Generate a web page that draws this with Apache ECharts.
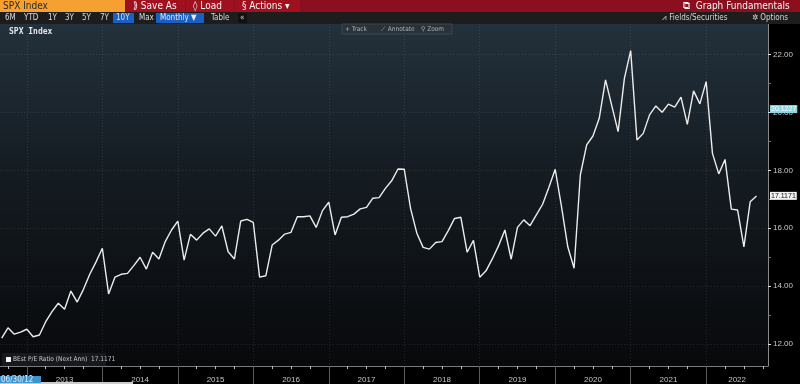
<!DOCTYPE html>
<html><head><meta charset="utf-8">
<script src="https://cdn.jsdelivr.net/npm/echarts@6/dist/echarts.min.js"></script>
<style>html,body{margin:0;padding:0;background:#000;}#c{width:800px;height:384px;}</style>
</head><body><div id="c"></div>
<script>
// Monthly Best P/E Ratio (Next Ann), SPX Index, Sep 2012 - Sep 2022
const firstYear = 2012;
const firstMonthOfFirstYear = 8; // September (0 = January)
const pe2012 = [12.20, 12.56, 12.34, 12.41];
const pe2013 = [12.51, 12.25, 12.31, 12.77, 13.12, 13.41, 13.20, 13.83, 13.45, 13.89, 14.41, 14.84];
const pe2014 = [15.31, 13.73, 14.31, 14.41, 14.44, 14.71, 15.00, 14.59, 15.17, 14.94, 15.54, 15.94];
const pe2015 = [16.25, 14.90, 15.79, 15.59, 15.83, 15.98, 15.73, 16.08, 15.19, 14.94, 16.25, 16.31];
const pe2016 = [16.20, 14.31, 14.36, 15.42, 15.59, 15.80, 15.86, 16.40, 16.40, 16.43, 16.03, 16.61];
const pe2017 = [16.90, 15.77, 16.38, 16.40, 16.49, 16.67, 16.72, 17.04, 17.06, 17.38, 17.64, 18.05];
const pe2018 = [18.04, 16.69, 15.83, 15.34, 15.28, 15.51, 15.54, 15.92, 16.34, 16.38, 15.17, 15.58];
const pe2019 = [14.31, 14.53, 14.94, 15.40, 15.94, 14.93, 16.03, 16.29, 16.09, 16.46, 16.83, 17.42];
const pe2020 = [18.04, 16.75, 15.36, 14.62, 17.85, 18.88, 19.19, 19.80, 21.13, 20.23, 19.34, 21.18];
const pe2021 = [22.14, 19.05, 19.28, 19.92, 20.23, 20.01, 20.29, 20.19, 20.53, 19.59, 20.75, 20.30];
const pe2022 = [21.07, 18.59, 17.88, 18.38, 16.66, 16.63, 15.36, 16.92, 17.1171];

const yearLabels = ['2013','2014','2015','2016','2017','2018','2019','2020','2021','2022'];
const yTickValues = [12, 14, 16, 18, 20, 22];
const yMinorTickValues = [13, 15, 17, 19, 21];
const lastValue = 17.1171;
const markerValue = 20.1227;
const legendText = 'BEst P/E Ratio (Next Ann)';
const startDateText = '06/30/12';
const tickerText = 'SPX Index';
const periodButtons = ['6M','YTD','1Y','3Y','5Y','7Y','10Y','Max'];

// axis window in months since Jan 2012
const xMin = 7.73, xMax = 129.83;
const yMin = 11.24, yMax = 23.06;

const yearBlocks = [pe2012, pe2013, pe2014, pe2015, pe2016, pe2017, pe2018, pe2019, pe2020, pe2021, pe2022];
const seriesData = [];
yearBlocks.forEach((arr, yi) => {
  const start = yi === 0 ? firstMonthOfFirstYear : 0;
  arr.forEach((v, i) => seriesData.push([yi * 12 + start + i, v]));
});

const yearStarts = yearLabels.map(y => (Number(y) - firstYear) * 12);
const yearMids = yearLabels.map(y => {
  const s = Math.max((Number(y) - firstYear) * 12, xMin);
  const e = Math.min((Number(y) - firstYear + 1) * 12, xMax);
  return (s + e) / 2;
});
const quarterTicks = [];
for (let m = Math.ceil(xMin); m <= xMax; m++) if (m % 3 === 0 && m % 12 !== 0) quarterTicks.push(m);

const grid = new echarts.graphic.LinearGradient(0, 0, 0, 1, [
  {offset: 0, color: '#23313c'}, {offset: 0.45, color: '#141b21'}, {offset: 1, color: '#08090b'}
]);
const dotted = {color: 'rgba(255,255,255,0.10)', type: [1, 2], width: 1};
const uiFont = '"Liberation Sans Narrow","DejaVu Sans Condensed","Liberation Sans",sans-serif';
const axisFont = '"Liberation Sans",Arial,sans-serif';

const graphics = [
  {type:'rect', shape:{x:0,y:0,width:800,height:12}, style:{fill:'#8c0f1f'}},
  {type:'rect', shape:{x:0,y:0,width:125,height:12}, style:{fill:'#f6a031'}},
  {type:'text', x:3, y:6, style:{text:tickerText, fill:'#2a2a2a', font:'10px '+uiFont, verticalAlign:'middle'}},
  {type:'rect', shape:{x:126,y:0,width:59,height:12}, style:{fill:'#a0111f'}},
  {type:'rect', shape:{x:186,y:0,width:48,height:12}, style:{fill:'#a0111f'}},
  {type:'rect', shape:{x:235,y:0,width:65,height:12}, style:{fill:'#a0111f'}},
  {type:'text', x:133, y:6, style:{text:'⟫ Save As', fill:'#f2f2f2', font:'10px '+uiFont, verticalAlign:'middle'}},
  {type:'text', x:193, y:6, style:{text:'◊ Load', fill:'#f2f2f2', font:'10px '+uiFont, verticalAlign:'middle'}},
  {type:'text', x:242, y:6, style:{text:'§ Actions ▾', fill:'#f2f2f2', font:'10px '+uiFont, verticalAlign:'middle'}},
  {type:'text', x:683, y:6, style:{text:'⧉  Graph Fundamentals', fill:'#f2f2f2', font:'10px '+uiFont, verticalAlign:'middle'}},
  {type:'rect', shape:{x:0,y:12,width:800,height:12}, style:{fill:'#1d1d1d'}},
  {type:'rect', shape:{x:113,y:13,width:21,height:10}, style:{fill:'#1c5fc4'}},
  {type:'rect', shape:{x:156,y:13,width:48,height:10}, style:{fill:'#1c5fc4'}},
  {type:'rect', shape:{x:238,y:13,width:9,height:10}, style:{fill:'#111'}},
  {type:'text', x:211, y:18, style:{text:'Table', fill:'#d8d8d8', font:'8px '+uiFont, verticalAlign:'middle'}},
  {type:'text', x:160, y:18, style:{text:'Monthly ▼', fill:'#e8e8e8', font:'8px '+uiFont, verticalAlign:'middle'}},
  {type:'text', x:240, y:18, style:{text:'«', fill:'#d8d8d8', font:'8px '+uiFont, verticalAlign:'middle'}},
  {type:'text', x:662, y:18, style:{text:'⩘ Fields/Securities', fill:'#d8d8d8', font:'8px '+uiFont, verticalAlign:'middle'}},
  {type:'text', x:752, y:18, style:{text:'✲ Options', fill:'#d8d8d8', font:'8px '+uiFont, verticalAlign:'middle'}},
  {type:'text', x:9, y:28, style:{text:tickerText, fill:'#e6e6e6', font:'bold 8px "DejaVu Sans Mono",monospace'}},
  {type:'rect', shape:{x:342,y:24,width:110,height:10}, style:{fill:'#2a3239', stroke:'#3d4750', lineWidth:1}},
  {type:'text', x:345, y:29, style:{text:'+ Track', fill:'#a9b1b8', font:'6.5px '+uiFont, verticalAlign:'middle'}},
  {type:'text', x:381, y:29, style:{text:'⟋ Annotate', fill:'#a9b1b8', font:'6.5px '+uiFont, verticalAlign:'middle'}},
  {type:'text', x:421, y:29, style:{text:'⚲ Zoom', fill:'#a9b1b8', font:'6.5px '+uiFont, verticalAlign:'middle'}},
  {type:'rect', shape:{x:2,y:353,width:104,height:13}, style:{fill:'#17191c'}},
  {type:'rect', shape:{x:6,y:357,width:5,height:5}, style:{fill:'#f4f4f4'}},
  {type:'text', x:13, y:359.5, style:{text:legendText + '  ' + lastValue.toFixed(4), fill:'#c8c8c8', font:'6.5px '+uiFont, verticalAlign:'middle'}},
  {type:'rect', shape:{x:0,y:382,width:133,height:2}, style:{fill:'#c9cdd1'}},
  {type:'rect', shape:{x:0,y:376,width:41,height:7}, style:{fill:'#3f93cf'}},
  {type:'text', x:1, y:380, style:{text:startDateText, fill:'#d7ecff', font:'8px '+uiFont, verticalAlign:'middle'}}
];
const btnX = [5, 24, 48, 65, 82, 100, 116, 139];
periodButtons.forEach((t, i) => graphics.push({type:'text', x:btnX[i], y:18, style:{text:t, fill:'#dcdcdc', font:'8px '+uiFont, verticalAlign:'middle'}}));
graphics.forEach(g => g.z = 100);

const chart = echarts.init(document.getElementById('c'), null, {renderer:'canvas'});
chart.setOption({
  backgroundColor: '#000',
  animation: false,
  grid: {left: 0, right: 32, top: 24, bottom: 18, show: true, backgroundColor: grid, borderWidth: 0},
  xAxis: [{
    type: 'value', min: xMin, max: xMax, position: 'bottom',
    axisLine: {show: true, lineStyle: {color: '#7a7a7a'}},
    axisTick: {show: true, customValues: yearStarts, length: 18, lineStyle: {color: '#5c5c5c'}},
    axisLabel: {customValues: yearMids, formatter: v => String(firstYear + Math.floor(v / 12)), color: '#c4c4c4', fontSize: 8, margin: 10, fontFamily: axisFont},
    splitLine: {show: true, lineStyle: dotted}
  }, {
    type: 'value', min: xMin, max: xMax, position: 'bottom',
    axisLine: {show: false}, axisLabel: {show: false}, splitLine: {show: false},
    axisTick: {show: true, customValues: quarterTicks, length: 3, lineStyle: {color: '#bdbdbd'}}
  }],
  yAxis: [{
    type: 'value', min: yMin, max: yMax, position: 'right',
    axisLine: {show: true, lineStyle: {color: '#8a8a8a'}},
    axisTick: {show: true, customValues: yTickValues, length: 3, lineStyle: {color: '#e0e0e0'}},
    axisLabel: {customValues: yTickValues, formatter: v => v.toFixed(2), color: '#c8c8c8', fontSize: 8, margin: 5, fontFamily: axisFont},
    splitLine: {show: true, lineStyle: dotted}
  }, {
    type: 'value', min: yMin, max: yMax, position: 'right',
    axisLine: {show: false}, axisLabel: {show: false}, splitLine: {show: false},
    axisTick: {show: true, customValues: yMinorTickValues, length: 3, lineStyle: {color: '#7a7a7a'}}
  }],
  series: [{
    type: 'line', data: seriesData, showSymbol: false, symbol: 'none', clip: false,
    lineStyle: {color: '#ececec', width: 1.4}, z: 5,
    markLine: {
      silent: true, symbol: 'none', animation: false,
      lineStyle: {color: 'rgba(0,0,0,0)', width: 0, type: 'solid'},
      data: [
        {yAxis: markerValue, label: {show: true, position: 'end', distance: 2, formatter: markerValue.toFixed(4), backgroundColor: '#8fd5e4', color: '#ffffff', fontSize: 7, padding: [1, 1, 0, 1], fontFamily: axisFont}},
        {yAxis: lastValue, label: {show: true, position: 'end', distance: 2, formatter: lastValue.toFixed(4), backgroundColor: '#f2f2f2', color: '#111', fontSize: 7, padding: [1, 1, 0, 1], fontFamily: axisFont}}
      ]
    }
  }],
  graphic: graphics
});
</script></body></html>
